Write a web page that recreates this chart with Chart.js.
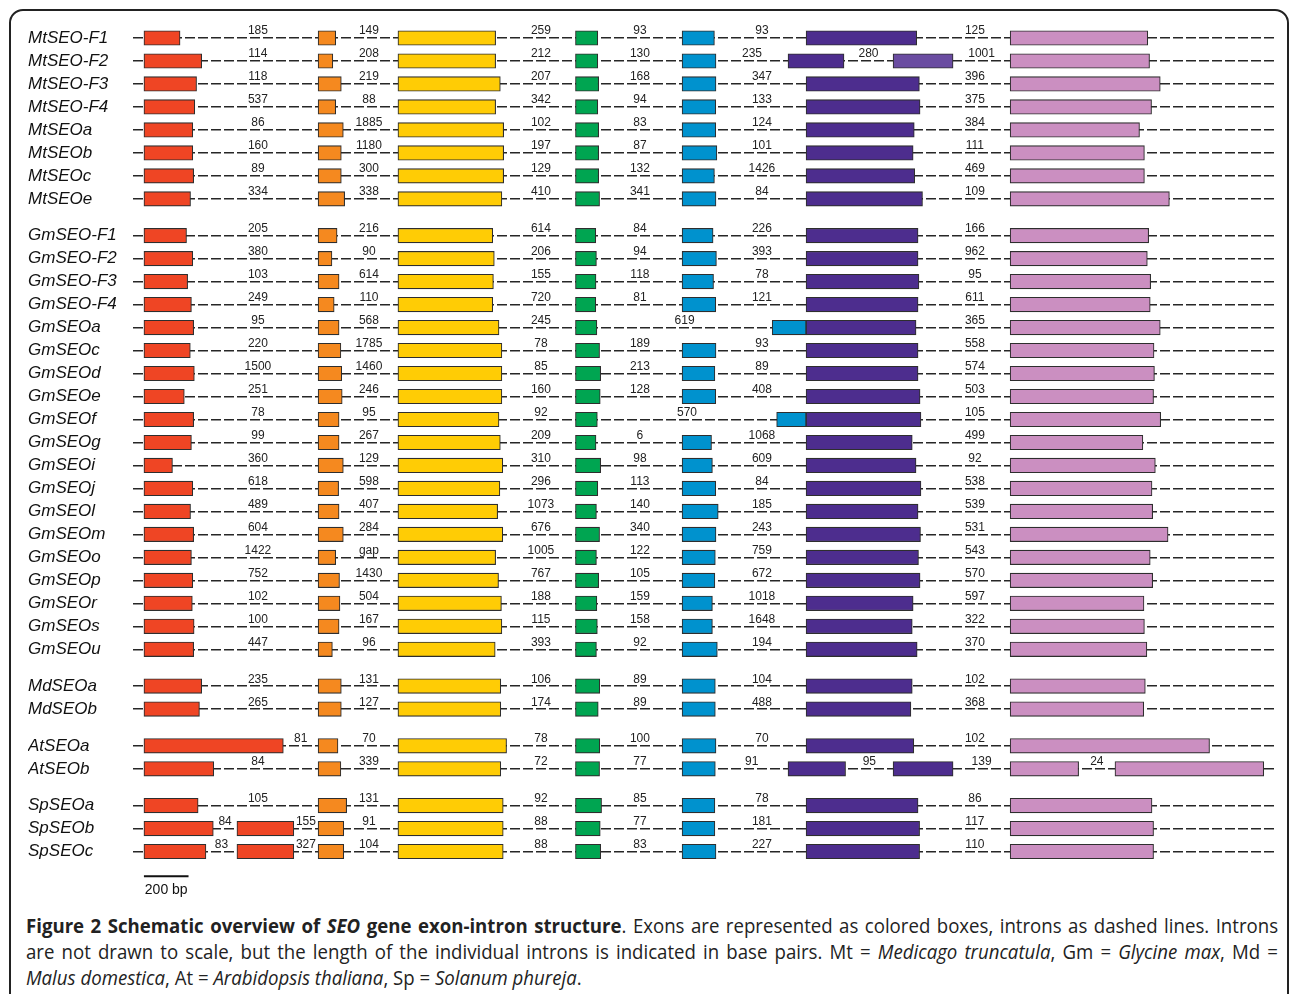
<!DOCTYPE html>
<html>
<head>
<meta charset="utf-8">
<script src="https://cdn.jsdelivr.net/npm/chart.js@4"></script>
<style>
  html, body { margin: 0; padding: 0; background: #fff; width: 1290px; height: 994px; overflow: hidden; }
  #frame { position: absolute; left: 9px; top: 9px; width: 1280px; height: 1010px; border: 2px solid #222;
           border-radius: 14px; box-sizing: border-box; }
  #chart { position: absolute; left: 0; top: 0; }
  #caption { position: absolute; left: 26px; top: 913px; width: 1252px; color: #222;
             font-family: "Open Sans", "Noto Sans", sans-serif; font-size: 19.5px; line-height: 26px; }
  #caption .ln { width: 1311px; transform: scaleX(0.955); transform-origin: left top; white-space: nowrap; }
  #caption .just { text-align: justify; text-align-last: justify; white-space: normal; }
</style>
</head>
<body>
<div id="frame"></div>
<canvas id="chart" width="1290" height="910"></canvas>
<div id="caption">
  <div class="ln just"><b>Figure 2 Schematic overview of <i>SEO</i> gene exon-intron structure</b>. Exons are represented as colored boxes, introns as dashed lines. Introns</div>
  <div class="ln just">are not drawn to scale, but the length of the individual introns is indicated in base pairs. Mt = <i>Medicago truncatula</i>, Gm = <i>Glycine max</i>, Md =</div>
  <div class="ln"><i>Malus domestica</i>, At = <i>Arabidopsis thaliana</i>, Sp = <i>Solanum phureja</i>.</div>
</div>
<script>
// ---- gene models -------------------------------------------------------
const genes = ['MtSEO-F1','MtSEO-F2','MtSEO-F3','MtSEO-F4','MtSEOa','MtSEOb','MtSEOc','MtSEOe',
  'GmSEO-F1','GmSEO-F2','GmSEO-F3','GmSEO-F4','GmSEOa','GmSEOc','GmSEOd','GmSEOe','GmSEOf','GmSEOg',
  'GmSEOi','GmSEOj','GmSEOl','GmSEOm','GmSEOo','GmSEOp','GmSEOr','GmSEOs','GmSEOu',
  'MdSEOa','MdSEOb','AtSEOa','AtSEOb','SpSEOa','SpSEOb','SpSEOc'];

// exon lengths (bp), one array per exon; null = exon split in two (see splitExons)
const exon1 = [162,259,236,228,219,219,223,209, 191,219,196,213,223,208,226,181,223,213,128,219,209,223,213,219,217,225,223, 259,249, 625,313, 243,null,null];
const exon2 = [79,66,104,79,113,104,104,119, 85,62,94,72,94,102,106,108,94,94,113,92,94,113,79,96,98,94,64, 104,104, 89,102, 128,115,115];
const exon3 = [438,438,459,438,474,474,474,466, 425,432,428,425,453,466,466,466,453,459,470,457,447,470,438,451,464,466,436, 461,461, 487,461, 472,472,472];
const exon4 = [100,100,104,100,104,104,104,108, 91,94,92,91,96,108,113,111,98,92,113,100,94,108,94,104,96,98,94, 109,102, 109,108, 117,111,113];
const exon5 = [145,152,152,151,151,156,145,152, 139,154,141,151,152,152,147,151,132,132,136,151,162,152,149,147,136,136,158, 149,149, 152,149, 147,147,152];
const exon6 = [496,null,508,511,485,480,487,522, 502,502,506,502,493,502,502,511,515,476,493,515,502,513,504,511,480,476,498, 476,470, 483,null, 502,509,509];
const exon7 = [617,625,673,634,580,602,602,714, 621,615,630,628,673,645,647,643,675,595,651,636,639,708,628,639,600,602,613, 606,599, 894,null, 636,643,643];

// exons interrupted by an extra intron: [gene, exon, part 1 bp, part 2 bp]
const splitExons = [
  ['MtSEO-F2', 6, 251, 269],
  ['AtSEOb', 6, 258, 269],
  ['AtSEOb', 7, 307, 667],
  ['SpSEOb', 1, 311, 255],
  ['SpSEOc', 1, 278, 255]
];
// genes whose exon 5 is joined to exon 6 without an intron
const fusedGenes = ['GmSEOa', 'GmSEOf'];

// intron lengths (bp) in order along each gene
const introns = [
  ['185','149','259','93','93','125'],
  ['114','208','212','130','235','280','1001'],
  ['118','219','207','168','347','396'],
  ['537','88','342','94','133','375'],
  ['86','1885','102','83','124','384'],
  ['160','1180','197','87','101','111'],
  ['89','300','129','132','1426','469'],
  ['334','338','410','341','84','109'],
  ['205','216','614','84','226','166'],
  ['380','90','206','94','393','962'],
  ['103','614','155','118','78','95'],
  ['249','110','720','81','121','611'],
  ['95','568','245','619','365'],
  ['220','1785','78','189','93','558'],
  ['1500','1460','85','213','89','574'],
  ['251','246','160','128','408','503'],
  ['78','95','92','570','105'],
  ['99','267','209','6','1068','499'],
  ['360','129','310','98','609','92'],
  ['618','598','296','113','84','538'],
  ['489','407','1073','140','185','539'],
  ['604','284','676','340','243','531'],
  ['1422','gap','1005','122','759','543'],
  ['752','1430','767','105','672','570'],
  ['102','504','188','159','1018','597'],
  ['100','167','115','158','1648','322'],
  ['447','96','393','92','194','370'],
  ['235','131','106','89','104','102'],
  ['265','127','174','89','488','368'],
  ['81','70','78','100','70','102'],
  ['84','339','72','77','91','95','139','24'],
  ['105','131','92','85','78','86'],
  ['84','155','91','88','77','181','117'],
  ['83','327','104','88','83','227','110']
];

const scaleBarBp = 200;

// ---- layout (drawing coordinates in bp along the x axis) ---------------
const exonCols = [exon1, exon2, exon3, exon4, exon5, exon6, exon7];
const ANCHOR = {1: 49, 2: 830, 3: 1188, 4: 1984, 5: 2462, 6: 3018, 7: 3933};
const SPLIT_ANCHOR = {1: [49, 466], 6: [2937, 3408], 7: [3933, 4403]};
const SLOT = {1: 560, 2: 1058, 3: 1829, 4: 2273, 5: 2820, 6: 3775};
const X_MAX = 5125;
const COLORS = {1: '#EF4524', 2: '#F5891F', 3: '#FFCC05', 4: '#00A551', 5: '#0092CE', 6: '#4D2D8E', 7: '#CB8FC1'};
const PURPLE_LIGHT = '#6A4CA1';
const GROUP_GAP = 0.6;

// row positions: species groups (name prefix) separated by a small gap
const rowY = [];
(function () {
  let y = 0, prev = null;
  genes.forEach((g) => {
    const sp = g.slice(0, 2);
    if (prev !== null) y += 1 + (sp !== prev ? GROUP_GAP : 0);
    rowY.push(+y.toFixed(2));
    prev = sp;
  });
})();

function segmentsFor(i) {
  const name = genes[i];
  const segs = [];
  for (let c = 1; c <= 7; c++) {
    const split = splitExons.find(s => s[0] === name && s[1] === c);
    if (split) {
      const [a0, a1] = SPLIT_ANCHOR[c];
      segs.push({col: c, start: a0, len: split[2], std: false, part: 0});
      segs.push({col: c, start: a1, len: split[3], std: false, part: 1});
    } else {
      const len = exonCols[c - 1][i];
      let start = ANCHOR[c], std = true, fused = false;
      if (c === 5 && fusedGenes.includes(name)) { start = ANCHOR[6] - len; std = false; fused = true; }
      segs.push({col: c, start, len, std, fused, part: 0});
    }
  }
  return segs;
}

const geneSegs = genes.map((g, i) => segmentsFor(i));

// one dataset per exon colour
const dsData = {1: [], 2: [], 3: [], 4: [], 5: [], 6: [], 7: [], light: []};
geneSegs.forEach((segs, i) => {
  segs.forEach(s => {
    const pt = {x: [s.start, s.start + s.len], y: rowY[i]};
    if (genes[i] === 'MtSEO-F2' && s.col === 6 && s.part === 1) dsData.light.push(pt);
    else dsData[s.col].push(pt);
  });
});

const barStyle = {grouped: false, barThickness: 14.5, borderWidth: 1.1, borderColor: '#2e2e2e', borderSkipped: false};
const datasets = [1, 2, 3, 4, 5, 6, 7].map(c => Object.assign({
  label: 'Exon ' + c, data: dsData[c], backgroundColor: COLORS[c]
}, barStyle));
datasets.push(Object.assign({label: 'Exon 6b', data: dsData.light, backgroundColor: PURPLE_LIGHT}, barStyle));

// intron length labels above the dashed lines, plus the scale bar
const intronLabels = {
  id: 'intronLabels',
  afterDatasetsDraw(chart) {
    const {ctx, scales: {x, y}} = chart;
    const margin = 54;
    ctx.save();
    ctx.font = '12px "Liberation Sans", Arial, sans-serif';
    ctx.fillStyle = '#222';
    ctx.textAlign = 'center';
    ctx.textBaseline = 'alphabetic';
    geneSegs.forEach((segs, i) => {
      let n = 0;
      for (let k = 0; k < segs.length - 1; k++) {
        const a = segs[k], b = segs[k + 1];
        if (a.fused) continue;
        const label = introns[i][n++];
        if (label === undefined) continue;
        const end = a.start + a.len, next = b.start;
        let pos = (end + next) / 2;
        if (a.std && b.std && a.col !== b.col) {
          const s = SLOT[a.col];
          if (s >= end + margin && s <= next - margin) pos = s;
        }
        ctx.fillText(label, x.getPixelForValue(pos), y.getPixelForValue(rowY[i]) - 3.5);
      }
    });
    const x0 = x.getPixelForValue(ANCHOR[1]);
    const x1 = x.getPixelForValue(ANCHOR[1] + scaleBarBp);
    const yb = y.getPixelForValue(36.48);
    ctx.strokeStyle = '#111';
    ctx.lineWidth = 2;
    ctx.beginPath();
    ctx.moveTo(x0, yb);
    ctx.lineTo(x1, yb);
    ctx.stroke();
    ctx.font = '14px "Liberation Sans", Arial, sans-serif';
    ctx.fillStyle = '#111';
    ctx.textBaseline = 'middle';
    ctx.fillText(scaleBarBp + ' bp', (x0 + x1) / 2, y.getPixelForValue(37.1));
    ctx.restore();
  }
};

new Chart(document.getElementById('chart'), {
  type: 'bar',
  data: {datasets},
  plugins: [intronLabels],
  options: {
    indexAxis: 'y',
    responsive: false,
    animation: false,
    events: [],
    layout: {padding: {left: 28, right: 14, top: 24.2, bottom: 9.5}},
    plugins: {legend: {display: false}, tooltip: {enabled: false}},
    scales: {
      x: {type: 'linear', min: 0, max: X_MAX, display: false, offset: false},
      y: {
        type: 'linear', reverse: true, min: -0.6, max: 37.5, offset: false,
        afterBuildTicks(scale) { scale.ticks = rowY.map(v => ({value: v})); },
        afterFit(scale) { scale.width = 105; },
        ticks: {
          autoSkip: false,
          crossAlign: 'far',
          color: '#111',
          padding: 0,
          font: {family: '"Liberation Sans", Arial, sans-serif', size: 17, style: 'italic'},
          callback(value) {
            const idx = rowY.indexOf(+(+value).toFixed(2));
            return idx >= 0 ? genes[idx] : '';
          }
        },
        grid: {color: '#262626', lineWidth: 1.5, drawTicks: false, tickLength: 0, offset: false},
        border: {display: false, dash: [10, 3]}
      }
    }
  }
});
</script>
</body>
</html>
